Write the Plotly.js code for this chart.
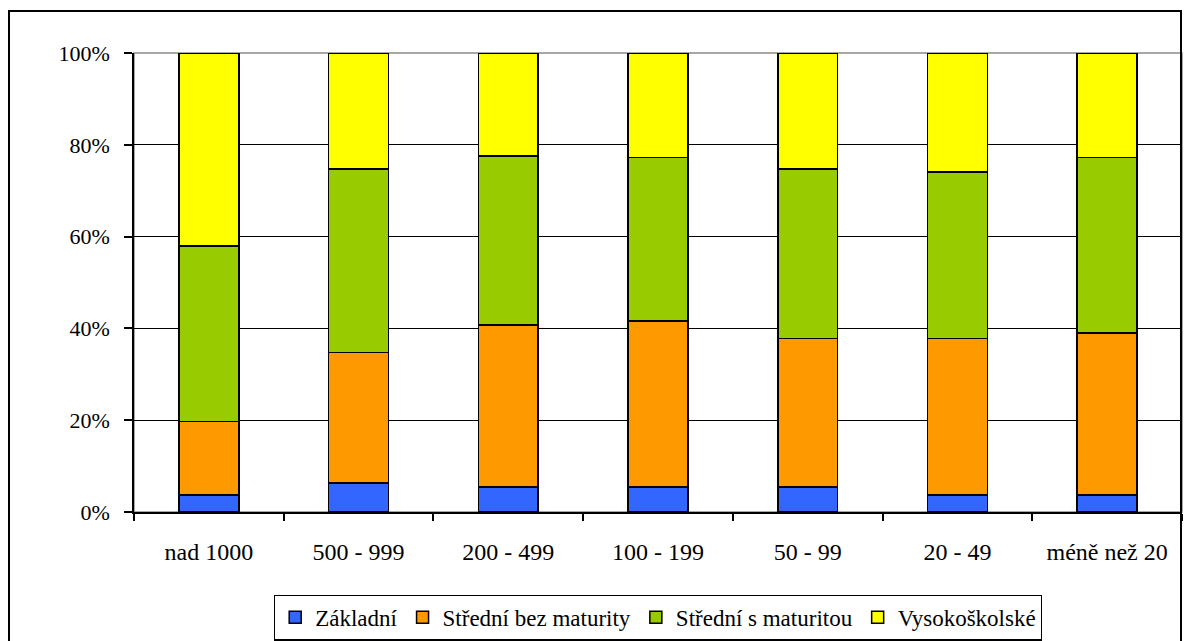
<!DOCTYPE html>
<html>
<head>
<meta charset="utf-8">
<script src="https://cdn.plot.ly/plotly-3.0.1.min.js"></script>
<style>
  html, body { margin: 0; padding: 0; background: #ffffff; }
  #wrap { position: relative; width: 1186px; height: 641px; overflow: hidden; }
  #frame { position: absolute; left: 8px; top: 10px; width: 1174px; height: 660px; border: 2px solid #000; box-sizing: border-box; pointer-events: none; }
  #chart { position: absolute; left: 0; top: 0; width: 1186px; height: 641px; }
</style>
</head>
<body>
<div id="wrap">
  <div id="chart"></div>
  <div id="frame"></div>
</div>
<script>
// Categories (company size by number of employees)
const categories = ["nad 1000", "500 - 999", "200 - 499", "100 - 199", "50 - 99", "20 - 49", "méně než 20"];

// Series (share of employees by education, %)
const zakladni        = [3.7, 6.3, 5.5, 5.5, 5.5, 3.7, 3.7];
const stredniBezMat   = [16.0, 28.4, 35.2, 36.1, 32.3, 34.1, 35.3];
const stredniSMat     = [38.3, 40.0, 36.9, 35.6, 36.9, 36.3, 38.2];
const vysokoskolske   = [42.0, 25.3, 22.4, 22.8, 25.3, 25.9, 22.8];

const seriesNames = ["Základní", "Střední bez maturity", "Střední s maturitou", "Vysokoškolské"];
const seriesValues = [zakladni, stredniBezMat, stredniSMat, vysokoskolske];
const seriesColors = ["#3366FF", "#FF9900", "#99CC00", "#FFFF00"];

const FONT = "Liberation Serif";

const traces = seriesNames.map((name, i) => ({
  type: "bar",
  name: name,
  x: categories,
  y: seriesValues[i],
  marker: { color: seriesColors[i], line: { color: "#000000", width: 1.5 } },
  hoverinfo: "x+y+name"
}));

const layout = {
  width: 1186,
  height: 641,
  margin: { l: 134, r: 4, t: 53, b: 129, pad: 0, autoexpand: false },
  paper_bgcolor: "rgba(0,0,0,0)",
  plot_bgcolor: "#ffffff",
  barmode: "stack",
  barnorm: "percent",
  bargap: 0.6,
  font: { family: FONT, size: 23, color: "#000000" },
  showlegend: true,
  legend: {
    orientation: "h",
    x: 0.5, xanchor: "center",
    y: -0.18, yanchor: "top",
    bordercolor: "#000000",
    borderwidth: 1.2,
    bgcolor: "#ffffff",
    font: { family: FONT, size: 23, color: "#000000" },
    traceorder: "normal",
    itemclick: false
  },
  xaxis: {
    type: "category",
    showline: true,
    linecolor: "#000000",
    linewidth: 1.5,
    ticks: "outside",
    tickson: "boundaries",
    ticklen: 7,
    tickwidth: 1.5,
    tickcolor: "#000000",
    showgrid: false,
    tickfont: { family: FONT, size: 24, color: "#000000" },
    ticklabelstandoff: 17,
    fixedrange: true
  },
  yaxis: {
    range: [0, 100],
    dtick: 20,
    ticksuffix: "%",
    showline: true,
    linecolor: "#000000",
    linewidth: 1.5,
    ticks: "outside",
    ticklen: 8,
    tickwidth: 1.5,
    tickcolor: "#000000",
    showgrid: true,
    gridcolor: "#000000",
    gridwidth: 1.3,
    zeroline: false,
    tickfont: { family: FONT, size: 22, color: "#000000" },
    ticklabelstandoff: 10,
    fixedrange: true
  },
  shapes: [
    {
      type: "rect", xref: "paper", yref: "paper",
      x0: 0, x1: 1, y0: 0, y1: 1,
      line: { color: "#8a8a8a", width: 1.5 },
      layer: "below"
    }
  ]
};

Plotly.newPlot("chart", traces, layout, { displayModeBar: false });
</script>
</body>
</html>
